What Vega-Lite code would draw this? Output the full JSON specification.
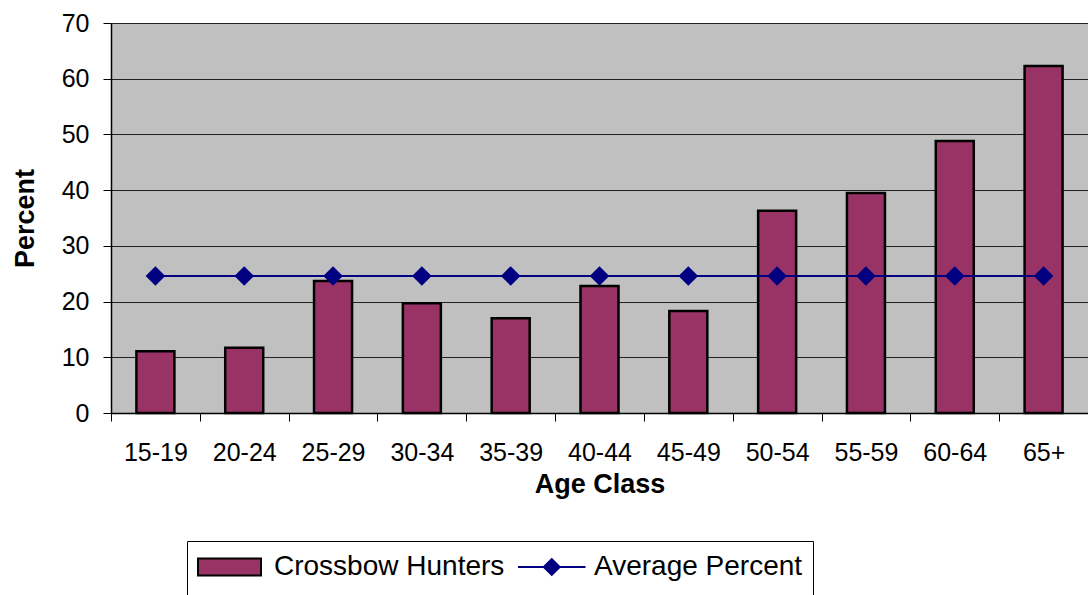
{
  "$schema": "https://vega.github.io/schema/vega-lite/v6.json",
  "width": 977,
  "height": 390,
  "autosize": {"type": "none"},
  "padding": {"left": 111, "top": 23, "right": 0, "bottom": 182},
  "background": "white",
  "config": {
    "view": {"fill": "#C0C0C0", "stroke": "#808080", "strokeWidth": 1},
    "font": "Liberation Sans",
    "axis": {"labelFont": "Liberation Sans", "titleFont": "Liberation Sans", "labelColor": "black", "titleColor": "black", "domainColor": "black", "tickColor": "black", "domainWidth": 1.5, "tickWidth": 1}
  },
  "data": {
    "values": [
      {"age": "15-19", "pct": 11.1, "avg": 24.6, "bar": "Crossbow Hunters", "line": "Average Percent"},
      {"age": "20-24", "pct": 11.7, "avg": 24.6, "bar": "Crossbow Hunters", "line": "Average Percent"},
      {"age": "25-29", "pct": 23.7, "avg": 24.6, "bar": "Crossbow Hunters", "line": "Average Percent"},
      {"age": "30-34", "pct": 19.7, "avg": 24.6, "bar": "Crossbow Hunters", "line": "Average Percent"},
      {"age": "35-39", "pct": 17.0, "avg": 24.6, "bar": "Crossbow Hunters", "line": "Average Percent"},
      {"age": "40-44", "pct": 22.8, "avg": 24.6, "bar": "Crossbow Hunters", "line": "Average Percent"},
      {"age": "45-49", "pct": 18.3, "avg": 24.6, "bar": "Crossbow Hunters", "line": "Average Percent"},
      {"age": "50-54", "pct": 36.3, "avg": 24.6, "bar": "Crossbow Hunters", "line": "Average Percent"},
      {"age": "55-59", "pct": 39.5, "avg": 24.6, "bar": "Crossbow Hunters", "line": "Average Percent"},
      {"age": "60-64", "pct": 48.8, "avg": 24.6, "bar": "Crossbow Hunters", "line": "Average Percent"},
      {"age": "65+", "pct": 62.3, "avg": 24.6, "bar": "Crossbow Hunters", "line": "Average Percent"}
    ]
  },
  "encoding": {
    "x": {
      "field": "age", "type": "nominal", "sort": null,
      "scale": {"paddingInner": 0, "paddingOuter": 0},
      "axis": {"title": "Age Class", "labelAngle": 0, "labelFontSize": 25, "titleFontSize": 27, "titleFontWeight": "bold", "tickSize": 8, "tickBand": "extent", "labelPadding": 19, "titlePadding": 6, "grid": false}
    }
  },
  "layer": [
    {
      "mark": {"type": "bar", "size": 38, "stroke": "black", "strokeWidth": 2.5},
      "encoding": {
        "y": {
          "field": "pct", "type": "quantitative",
          "scale": {"domain": [0, 70], "nice": false},
          "axis": {"title": "Percent", "values": [0, 10, 20, 30, 40, 50, 60, 70], "labelFontSize": 25, "titleFontSize": 27, "titleFontWeight": "bold", "tickSize": 8, "labelPadding": 14, "titlePadding": 22, "grid": true, "gridColor": "#222", "gridWidth": 1}
        },
        "fill": {
          "field": "bar", "type": "nominal",
          "scale": {"domain": ["Crossbow Hunters", "Average Percent"], "range": ["#993366", "#000080"]},
          "legend": {
            "title": " ",
            "titleOrient": "bottom",
            "titleFontSize": 12,
            "titlePadding": 0,
            "orient": "none",
            "legendX": 76,
            "legendY": 518,
            "direction": "horizontal",
            "columns": 2,
            "strokeColor": "black",
            "fillColor": "white",
            "padding": 10,
            "labelFont": "Liberation Sans",
            "labelFontSize": 28,
            "labelColor": "black",
            "labelLimit": 600,
            "labelOffset": 45,
            "columnPadding": 9,
            "symbolSize": 900,
            "symbolStrokeWidth": 2,
            "symbolOpacity": 1,
            "symbolType": {"expr": "datum.value === 'Crossbow Hunters' ? 'M-1,-0.57H3.2V0.57H-1Z' : 'M-1,0H3.5M0.72,0L1.25,-0.53L1.78,0L1.25,0.53Z'"}
          }
        }
      }
    },
    {
      "mark": {"type": "line", "strokeWidth": 2, "point": {"filled": true, "shape": "diamond", "size": 280, "opacity": 1, "fill": "#000080"}},
      "encoding": {
        "y": {"field": "avg", "type": "quantitative"},
        "stroke": {
          "field": "line", "type": "nominal",
          "scale": {"domain": ["Crossbow Hunters", "Average Percent"], "range": ["black", "#000080"]},
          "legend": {
            "title": " ",
            "titleOrient": "bottom",
            "titleFontSize": 12,
            "titlePadding": 0,
            "orient": "none",
            "legendX": 76,
            "legendY": 518,
            "direction": "horizontal",
            "columns": 2,
            "strokeColor": "black",
            "fillColor": "white",
            "padding": 10,
            "labelFont": "Liberation Sans",
            "labelFontSize": 28,
            "labelColor": "black",
            "labelLimit": 600,
            "labelOffset": 45,
            "columnPadding": 9,
            "symbolSize": 900,
            "symbolStrokeWidth": 2,
            "symbolOpacity": 1,
            "symbolType": {"expr": "datum.value === 'Crossbow Hunters' ? 'M-1,-0.57H3.2V0.57H-1Z' : 'M-1,0H3.5M0.72,0L1.25,-0.53L1.78,0L1.25,0.53Z'"}
          }
        }
      }
    }
  ]
}
